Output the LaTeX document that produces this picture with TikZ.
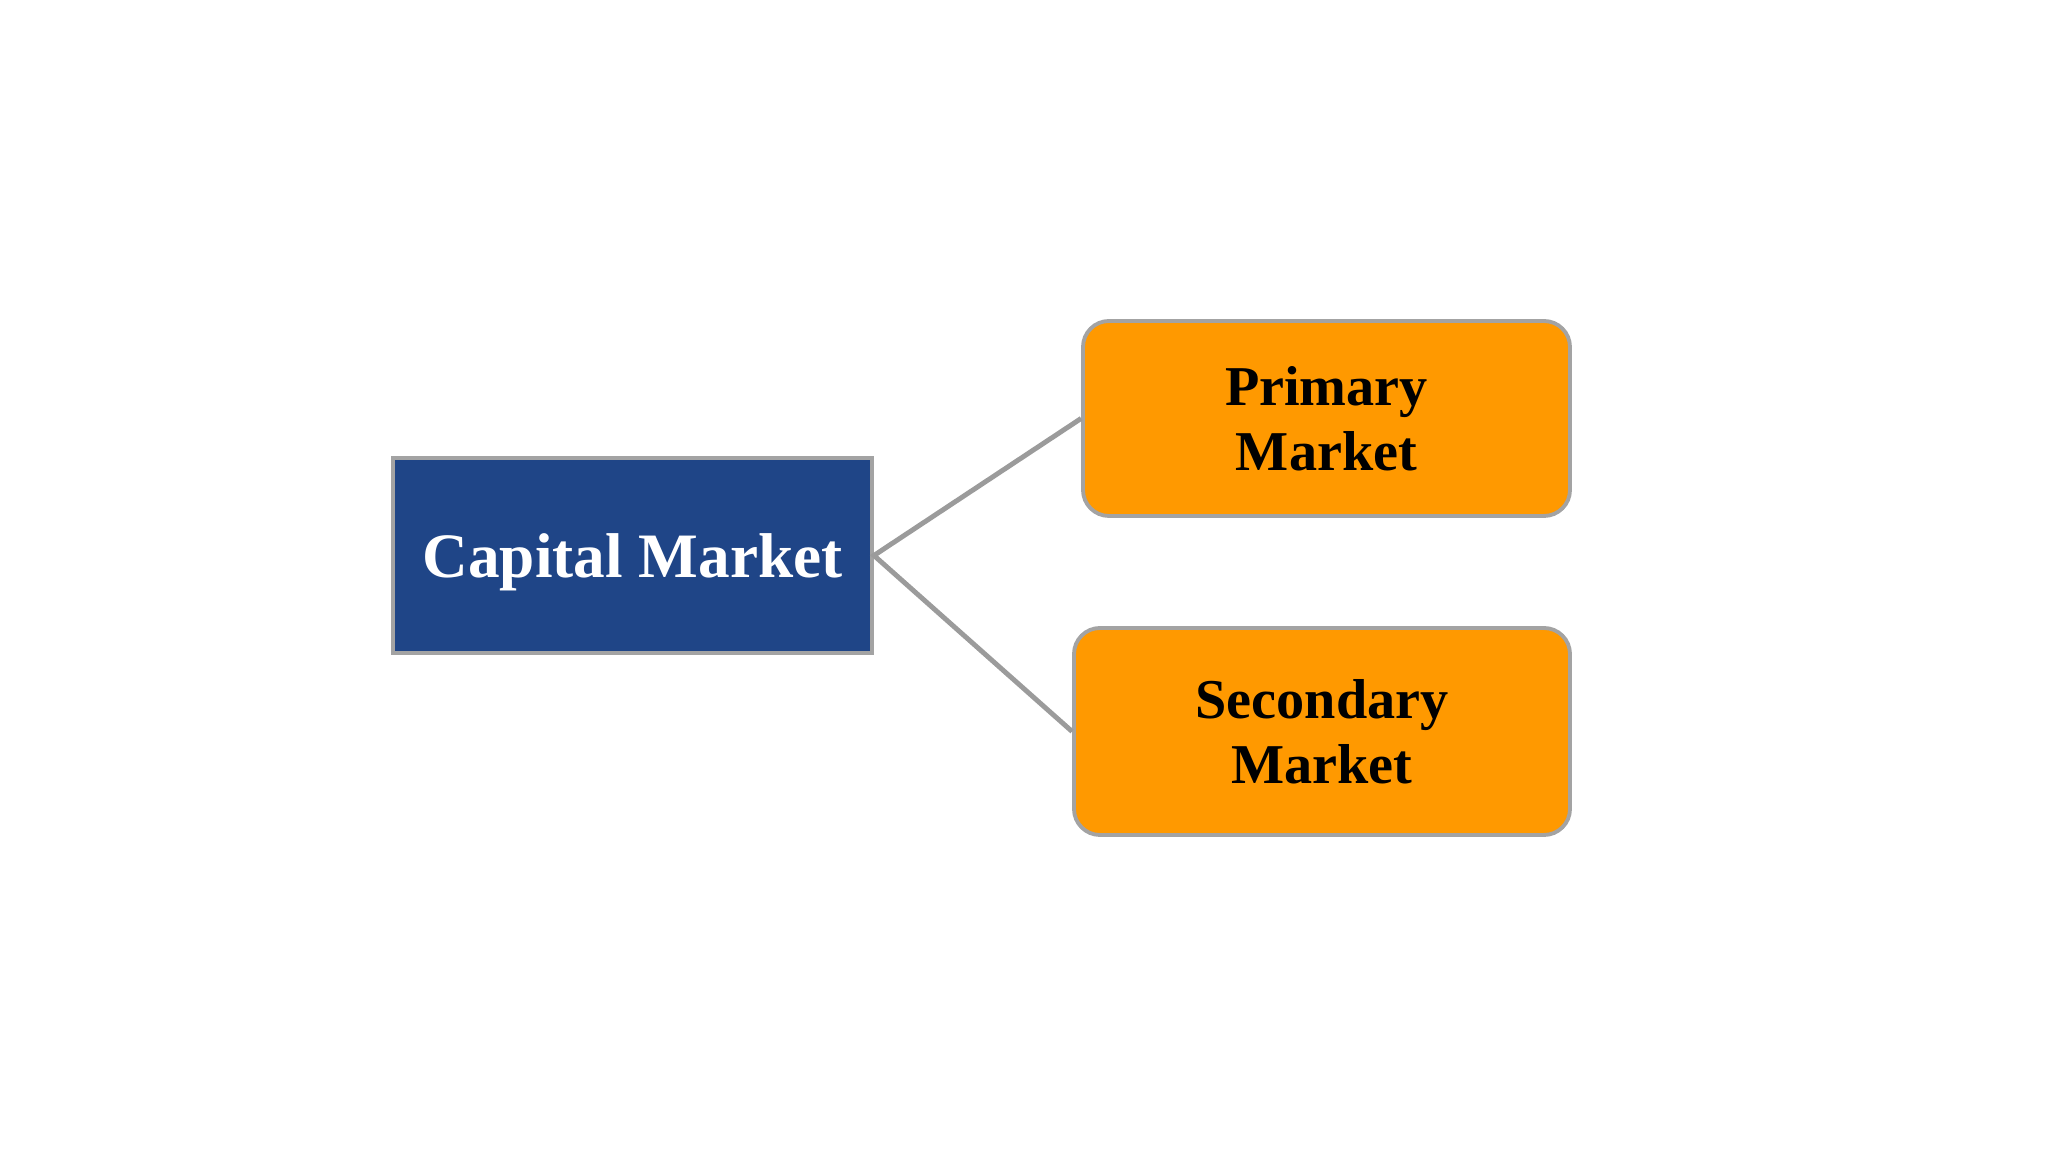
\documentclass[tikz,border=0pt]{standalone}
\usepackage{fontspec}
\setmainfont{Liberation Serif}
\usetikzlibrary{positioning}
\usetikzlibrary{calc}

\definecolor{capblue}{HTML}{1F4587}
\definecolor{mktorange}{HTML}{FF9900}
\definecolor{edgegray}{HTML}{A3A3A3}

\begin{document}
\begin{tikzpicture}[
    capbox/.style={draw=edgegray, line width=1.1pt, fill=capblue, text=white,
        minimum width=4.79cm, minimum height=1.95cm, text depth=0pt,
        font=\fontsize{18}{21}\selectfont\bfseries},
    mktbox/.style={draw=edgegray, line width=1.1pt, fill=mktorange, text=black,
        rounded corners=0.26cm, align=center,
        font=\fontsize{16}{18.5}\selectfont\bfseries},
    link/.style={draw=edgegray!95!black, line width=1.4pt}
]

\useasboundingbox (0,0) rectangle (20.48,11.52);

\node[capbox] (capital) at (6.325, 5.965) {Capital Market};

\node[mktbox, minimum width=4.87cm, minimum height=1.95cm] (primary) at (13.265, 7.335) {Primary\\Market};
\node[mktbox, minimum width=4.96cm, minimum height=2.07cm] (secondary) at (13.22, 4.205) {Secondary\\Market};

\draw[link] (primary.west) -- (capital.east) -- (secondary.west);

\end{tikzpicture}
\end{document}
